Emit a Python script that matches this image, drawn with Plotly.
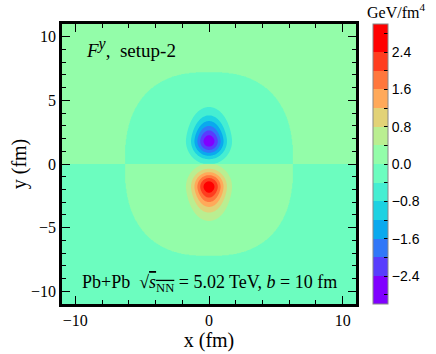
import numpy as np
import plotly.graph_objects as go

# ---- values ----
x_range = [-11, 11]
y_range = [-11, 11]
levels = dict(start=-2.8, end=2.8, size=0.4)
cbar_tickvals = [-2.8, -2.4, -2.0, -1.6, -1.2, -0.8, -0.4, 0.0, 0.4, 0.8, 1.2, 1.6, 2.0, 2.4, 2.8]
cbar_ticktext = ["", "\u22122.4", "", "\u22121.6", "", "\u22120.8", "", "0.0", "", "0.8", "", "1.6", "", "2.4", ""]
x_tickvals = [-10, 0, 10]
x_ticktext = ["\u221210", "0", "10"]
y_tickvals = [-10, -5, 0, 5, 10]
y_ticktext = ["\u221210", "\u22125", "0", "5", "10"]

# medium region (superellipse)
region_half_x = 6.3
region_half_y = 7.22
region_power = 2.5
background_level = 0.1          # |value| of the flat regions

# the two lobes (blue at +y, red at -y)
lobe_center_y = 1.8
lobe_peak = 2.6
lobe_sigma_x = 0.83
lobe_sigma_inner = 0.88         # toward y = 0
lobe_sigma_outer_near = 0.7     # away from y = 0, near the peak
lobe_sigma_outer_far = 1.33     # away from y = 0, far tail
lobe_sigma_scale = 1.0

# ---- build field on a grid ----
xs = np.linspace(x_range[0], x_range[1], 441)
ys = np.linspace(y_range[0], y_range[1], 440)
X, Y = np.meshgrid(xs, ys)
S = np.sign(Y)
inside = (np.abs(X) / region_half_x) ** region_power + (np.abs(Y) / region_half_y) ** region_power < 1
bg = np.where(inside, -S * background_level, S * background_level)
d = np.abs(Y) - lobe_center_y
sig_out = lobe_sigma_outer_far - (lobe_sigma_outer_far - lobe_sigma_outer_near) * np.exp(-np.clip(d, 0, None) / lobe_sigma_scale)
sig_y = np.where(d < 0, lobe_sigma_inner, sig_out)
ty = d / sig_y
tx = X / lobe_sigma_x
lobe = -S * lobe_peak * np.exp(-(tx ** 2 + ty ** 2) / 2)
Z = bg + lobe

# ---- discrete rainbow colours (matplotlib 'rainbow') ----
nb = 14
def rainbow(t):
    r = abs(2 * t - 0.5)
    g = np.sin(np.pi * t)
    b = np.cos(np.pi * t / 2)
    return "rgb(%d,%d,%d)" % (round(min(r, 1) * 255), round(g * 255), round(b * 255))
band_colors = [rainbow(i / (nb - 1)) for i in range(nb)]
lo = levels["start"] - levels["size"] / 2
hi = levels["end"] + levels["size"] / 2
cs = [[0.0, band_colors[0]]]
for i, c in enumerate(band_colors):
    v = levels["start"] + levels["size"] * (i + 0.5)
    cs.append([(v - lo) / (hi - lo), c])
cs.append([1.0, band_colors[-1]])

serif = "Liberation Serif"
sans = "Liberation Sans"

fig = go.Figure(go.Contour(
    x=xs, y=ys, z=Z,
    autocontour=False,
    contours=dict(start=levels["start"], end=levels["end"], size=levels["size"], coloring="fill", showlines=False),
    colorscale=cs,
    line=dict(width=0),
    colorbar=dict(
        x=1.054, xanchor="left", xpad=0, y=0.5, yanchor="middle", len=1.0, lenmode="fraction",
        thickness=15, ypad=0,
        outlinecolor="#888888", outlinewidth=1,
        tickmode="array", tickvals=cbar_tickvals, ticktext=cbar_ticktext,
        ticks="inside", ticklen=4, tickcolor="black", tickwidth=1,
        tickfont=dict(family=sans, size=14, color="black"),
    ),
))

axis_common = dict(
    showgrid=False, zeroline=False, showline=True, linecolor="black", linewidth=2.5, mirror="allticks",
    ticks="inside", ticklen=8, tickwidth=1, tickcolor="black", automargin=False,
    tickfont=dict(family=serif, size=16, color="black"),
)
fig.update_xaxes(range=x_range, tickmode="array", tickvals=x_tickvals, ticktext=x_ticktext,
                 minor=dict(dtick=2, ticks="inside", ticklen=4, tickcolor="black"),
                 title=dict(text="x (fm)", font=dict(family=serif, size=20, color="black"), standoff=4),
                 **axis_common)
fig.update_yaxes(range=y_range, tickmode="array", tickvals=y_tickvals, ticktext=y_ticktext,
                 minor=dict(dtick=1, ticks="inside", ticklen=4, tickcolor="black"),
                 title=dict(text="y (fm)", font=dict(family=serif, size=20, color="black"), standoff=0),
                 **axis_common)

fig.update_layout(
    width=436, height=354,
    margin=dict(l=62, r=79, t=24, b=50),
    paper_bgcolor="white", plot_bgcolor="white",
    showlegend=False,
    annotations=[
        dict(text="<i>F</i><sup><span style='font-size:16px'><i>y</i></span></sup>,&nbsp;&nbsp;setup-2",
             x=0.075, y=0.915, xref="paper", yref="paper",
             xanchor="left", yanchor="middle", showarrow=False, font=dict(family=serif, size=19, color="black")),
        dict(text="Pb+Pb&nbsp;&nbsp;\u221a<span style='text-decoration:overline'><i>s</i><sub>NN</sub></span> = 5.02 TeV, <i>b</i> = 10 fm",
             x=0.5, y=0.075, xref="paper", yref="paper", xanchor="center", yanchor="middle", showarrow=False,
             font=dict(family=serif, size=18, color="black")),
        dict(text="GeV/fm<sup>4</sup>", x=1.135, y=1.0, xref="paper", yref="paper", xanchor="center", yanchor="bottom",
             yshift=1, showarrow=False, font=dict(family=serif, size=16, color="black")),
    ],
)

# remove the page's default 8 px body margin so the figure sits at the window's corner
fig.write_html("out.html", config={"displayModeBar": False},
               post_script="document.body.style.margin='0px';")
